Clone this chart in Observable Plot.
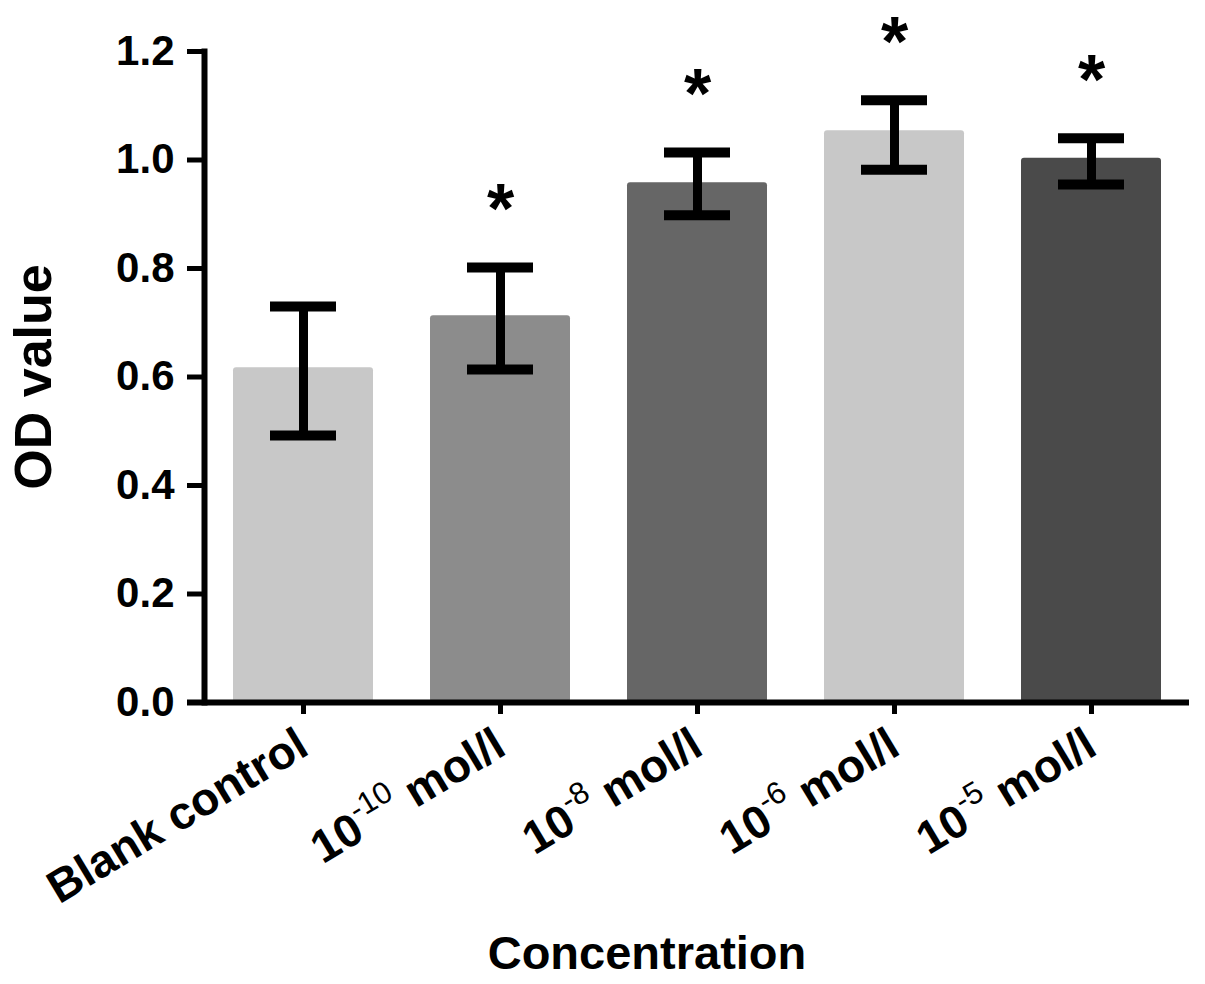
<!DOCTYPE html>
<html>
<head>
<meta charset="utf-8">
<script src="https://cdn.jsdelivr.net/npm/d3@7"></script>
<script src="https://cdn.jsdelivr.net/npm/@observablehq/plot@0.6"></script>
<style>
  html, body { margin: 0; padding: 0; background: #fff; }
  #chart svg { display: block; }
</style>
</head>
<body>
<div id="chart"></div>
<script>
const categories = ["Blank control", "10^-10 mol/l", "10^-8 mol/l", "10^-6 mol/l", "10^-5 mol/l"];
const means = [0.617, 0.713, 0.958, 1.054, 1.003];
const lower = [0.492, 0.614, 0.898, 0.982, 0.955];
const upper = [0.730, 0.802, 1.014, 1.110, 1.040];
const significance = ["", "*", "*", "*", "*"];
const barColors = ["#c8c8c8", "#8c8c8c", "#666666", "#c8c8c8", "#4a4a4a"];
const yTicks = [0, 0.2, 0.4, 0.6, 0.8, 1.0, 1.2];

const data = categories.map((c, i) => ({
  cat: c, mean: means[i], lo: lower[i], hi: upper[i], sig: significance[i], color: barColors[i]
}));

const font = "'Liberation Sans', Arial, Helvetica, sans-serif";

const chart = Plot.plot({
  width: 1205,
  height: 984,
  marginLeft: 204,
  marginRight: 16,
  marginTop: 51,
  marginBottom: 282,
  style: { fontFamily: font, fontWeight: "bold", color: "#000", background: "#fff" },
  x: { domain: categories, paddingInner: 0.29, paddingOuter: 0.145 },
  y: { domain: [0, 1.2] },
  color: { type: "identity" },
  marks: [
    Plot.barY(data, { x: "cat", y: "mean", fill: "color", rx: 3 }),
    Plot.ruleX(data, { x: "cat", y1: "lo", y2: "hi", stroke: "#000", strokeWidth: 9 }),
    Plot.tickY(data, { x: "cat", y: "hi", stroke: "#000", strokeWidth: 10, inset: 37 }),
    Plot.tickY(data, { x: "cat", y: "lo", stroke: "#000", strokeWidth: 10, inset: 37 }),
    Plot.text(data.filter(d => d.sig), { x: "cat", y: "hi", text: "sig", dy: -57, fontSize: 70, lineAnchor: "middle", fontWeight: "bold" }),
    Plot.frame({ anchor: "left", stroke: "#000", strokeWidth: 6 }),
    Plot.ruleY([0], { stroke: "#000", strokeWidth: 6, insetLeft: -17 }),
    Plot.axisY({ ticks: yTicks, tickFormat: d3.format(".1f"), tickSize: 17, tickPadding: 13, fontSize: 42, strokeWidth: 5, label: null }),
    Plot.axisX({ tickSize: 12, strokeWidth: 5, tickRotate: -31, fontSize: 46, tickPadding: 26, label: null }),
    Plot.text(["OD value"], { frameAnchor: "left", textAnchor: "middle", rotate: -90, dx: -170, fontSize: 52, fontWeight: "bold" }),
    Plot.text(["Concentration"], { frameAnchor: "bottom", dx: -50, dy: 266, fontSize: 47, fontWeight: "bold" })
  ]
});

// Render superscript exponents in the category tick labels
chart.querySelectorAll('g[aria-label="x-axis tick label"] text').forEach(t => {
  const s = t.textContent;
  const m = s.match(/^(\d+)\^(\S+)\s(.*)$/);
  if (!m) return;
  while (t.firstChild) t.removeChild(t.firstChild);
  const ns = "http://www.w3.org/2000/svg";
  const base = document.createElementNS(ns, "tspan");
  base.textContent = m[1];
  const sup = document.createElementNS(ns, "tspan");
  sup.textContent = m[2];
  sup.setAttribute("font-size", "31");
  sup.setAttribute("font-weight", "normal");
  sup.setAttribute("dy", "-20");
  const rest = document.createElementNS(ns, "tspan");
  rest.textContent = " " + m[3];
  rest.setAttribute("dy", "20");
  t.appendChild(base); t.appendChild(sup); t.appendChild(rest);
});

document.getElementById("chart").appendChild(chart);
</script>
</body>
</html>
